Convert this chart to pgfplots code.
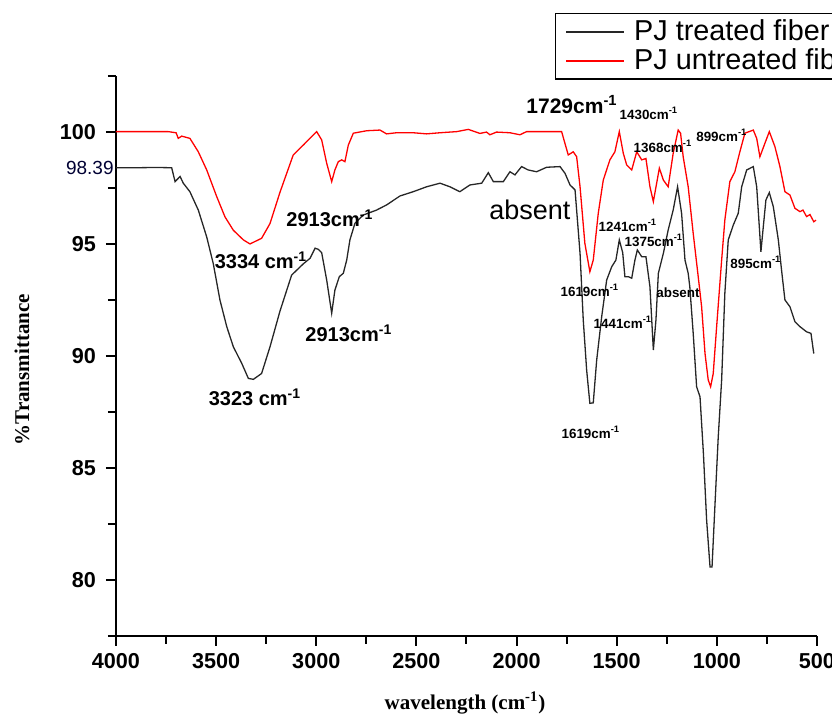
\documentclass[border=0pt]{standalone}
\usepackage{fontspec}
\setmainfont{Liberation Sans}
\newfontfamily\timesfont{Liberation Serif}
\usepackage{pgfplots}
\pgfplotsset{compat=1.18}
\pgfplotstableread{
x y
4000 98.39
3900 98.39
3800 98.40
3722 98.39
3705 97.77
3680 98.00
3664 97.70
3631 97.32
3589 96.50
3547 95.30
3514 94.10
3481 92.49
3447 91.30
3414 90.40
3372 89.66
3339 88.99
3314 88.95
3273 89.21
3231 90.40
3181 92.00
3123 93.60
3065 94.10
3031 94.35
3006 94.80
2990 94.75
2973 94.60
2948 93.38
2923 91.90
2907 92.93
2885 93.53
2865 93.68
2848 94.27
2832 95.17
2807 95.91
2765 96.28
2699 96.50
2649 96.73
2582 97.13
2516 97.32
2449 97.54
2382 97.70
2333 97.54
2283 97.32
2233 97.62
2174 97.70
2141 98.17
2116 97.77
2066 97.77
2033 98.21
2008 98.07
1975 98.44
1942 98.29
1900 98.21
1850 98.41
1783 98.44
1758 98.14
1733 97.62
1708 97.40
1683 94.57
1667 91.60
1650 89.36
1634 87.88
1617 87.90
1600 89.80
1575 91.74
1550 93.38
1525 93.97
1504 94.27
1487 95.17
1470 94.60
1459 93.53
1442 93.53
1425 93.46
1409 94.27
1397 94.72
1375 94.42
1354 94.42
1334 93.08
1317 90.26
1304 91.60
1292 93.68
1267 94.57
1243 95.61
1218 96.50
1196 97.54
1176 96.36
1159 94.27
1143 93.68
1135 93.08
1118 91.00
1101 88.62
1084 88.17
1067 85.64
1051 82.67
1034 80.58
1024 80.58
1009 83.41
993 86.38
976 88.92
960 92.79
943 95.17
918 95.83
893 96.36
876 97.54
851 98.29
818 98.44
801 97.54
788 95.76
780 94.64
768 95.76
755 96.95
738 97.28
718 96.65
693 95.17
677 93.83
660 92.49
635 92.19
610 91.52
585 91.30
552 91.07
530 91.00
516 90.10
}\treated
\pgfplotstableread{
x y
4000 100
3900 100
3739 100
3700 99.95
3689 99.70
3672 99.80
3631 99.70
3589 99.10
3547 98.29
3497 97.10
3456 96.20
3414 95.60
3364 95.17
3331 94.99
3273 95.24
3231 95.90
3181 97.30
3115 98.96
3065 99.40
2998 100.00
2973 99.63
2948 98.59
2923 97.77
2907 98.29
2890 98.66
2873 98.74
2857 98.66
2840 99.40
2815 99.93
2748 100.04
2682 100.07
2649 99.90
2599 99.95
2516 99.95
2449 99.90
2382 99.95
2299 100.00
2241 100.10
2183 99.92
2150 99.98
2133 99.86
2100 99.98
2033 99.95
1983 99.86
1950 100
1775 100
1742 98.96
1717 99.10
1700 98.88
1683 97.54
1659 95.02
1634 93.75
1617 94.27
1592 96.36
1567 97.84
1534 98.74
1509 99.10
1487 100.00
1467 99.03
1450 98.51
1425 98.29
1400 99.10
1375 98.74
1354 98.80
1334 97.54
1317 96.88
1287 98.37
1267 97.84
1243 97.54
1218 99.03
1193 100.07
1181 99.93
1168 98.88
1143 97.54
1118 95.46
1093 93.53
1076 92.19
1059 90.10
1043 88.92
1031 88.62
1018 89.21
1001 91.30
976 94.27
960 96.06
935 97.77
910 98.21
885 99.10
860 99.93
818 100.07
801 99.70
785 98.88
760 99.48
738 100.00
710 99.33
685 98.44
660 97.32
635 97.17
610 96.58
585 96.43
570 96.50
552 96.21
535 96.30
516 95.98
505 96.05
}\untreated
\begin{document}
\begin{tikzpicture}
\begin{axis}[
  scale only axis, width=350.5pt, height=280.2pt,
  at={(0,0)}, anchor=south west,
  clip=false,
  xmin=500, xmax=4000, x dir=reverse,
  ymin=77.5, ymax=102.5,
  axis x line=bottom, axis y line=left,
  axis line style={-, line width=1.2pt},
  xtick={500,1000,...,4000}, minor xtick={750,1250,...,3750},
  ytick={80,85,90,95,100}, minor ytick={77.5,82.5,...,102.5},
  tick align=outside,
  major tick length=5pt, minor tick length=4pt,
  every tick/.style={black, line width=1pt},
  /pgf/number format/assume math mode=true,
  /pgf/number format/1000 sep={},
  ticklabel style={font=\bfseries\fontsize{10.8}{12}\selectfont},
  yticklabel style={xshift=-1.5pt},
  legend style={at={(axis description cs:0.626,1.112)}, anchor=north west,
    draw=black, line width=0.6pt, font=\fontsize{14.4}{17}\selectfont,
    inner xsep=5pt, inner ysep=1.2pt, row sep=-1.5pt, column sep=2.5pt, cells={anchor=west}},
  legend cell align=left,
  legend image code/.code={\draw[#1, line width=0.9pt] (0pt,0pt) -- (29pt,0pt);},
]
\addplot[black!85, line width=0.65pt] table[x=x,y=y] {\treated};
\addlegendentry{PJ treated fiber}
\addplot[red, line width=0.65pt] table[x=x,y=y] {\untreated};
\addlegendentry{PJ untreated fiber}

\node[anchor=east, inner sep=1pt, font=\fontsize{9.5}{11}\selectfont, text=black!80!blue] at (axis cs:4000,98.39) {98.39};

\node[font=\bfseries\fontsize{10}{12}\selectfont] at (axis cs:3276,94.27) {3334 cm\textsuperscript{-1}};
\node[font=\bfseries\fontsize{10}{12}\selectfont] at (axis cs:2932,96.15) {2913cm\textsuperscript{-1}};
\node[font=\bfseries\fontsize{10}{12}\selectfont] at (axis cs:3306,88.16) {3323 cm\textsuperscript{-1}};
\node[font=\bfseries\fontsize{10}{12}\selectfont] at (axis cs:2837,91.01) {2913cm\textsuperscript{-1}};
\node[font=\fontsize{13.5}{16}\selectfont] at (axis cs:1933,96.5) {absent};
\node[font=\bfseries\fontsize{10.5}{12}\selectfont] at (axis cs:1723,101.19) {1729cm\textsuperscript{-1}};
\node[font=\bfseries\fontsize{6.7}{8}\selectfont] at (axis cs:1339,100.83) {1430cm\textsuperscript{-1}};
\node[font=\bfseries\fontsize{6.7}{8}\selectfont] at (axis cs:1269,99.36) {1368cm\textsuperscript{-1}};
\node[font=\bfseries\fontsize{6.7}{8}\selectfont] at (axis cs:975,99.85) {899cm\textsuperscript{-1}};
\node[font=\bfseries\fontsize{6.7}{8}\selectfont] at (axis cs:1444,95.83) {1241cm\textsuperscript{-1}};
\node[font=\bfseries\fontsize{6.7}{8}\selectfont] at (axis cs:1314,95.17) {1375cm\textsuperscript{-1}};
\node[font=\bfseries\fontsize{6.7}{8}\selectfont] at (axis cs:1634,92.93) {1619cm\textsuperscript{-1}};
\node[font=\bfseries\fontsize{6.7}{8}\selectfont] at (axis cs:1194,92.8) {absent};
\node[font=\bfseries\fontsize{6.7}{8}\selectfont] at (axis cs:1469,91.5) {1441cm\textsuperscript{-1}};
\node[font=\bfseries\fontsize{6.7}{8}\selectfont] at (axis cs:805,94.18) {895cm\textsuperscript{-1}};
\node[font=\bfseries\fontsize{6.7}{8}\selectfont] at (axis cs:1629,86.59) {1619cm\textsuperscript{-1}};

\node[font=\timesfont\bfseries\fontsize{10.5}{12}\selectfont] at (axis description cs:0.498,-0.12) {wavelength (cm\textsuperscript{-1})};
\node[rotate=90, font=\timesfont\bfseries\fontsize{10.5}{12}\selectfont] at (axis description cs:-0.134,0.475) {\%Transmittance};
\end{axis}
\pgfresetboundingbox
\path (-58pt,-39.5pt) rectangle (358pt,318pt);
\end{tikzpicture}
\end{document}
